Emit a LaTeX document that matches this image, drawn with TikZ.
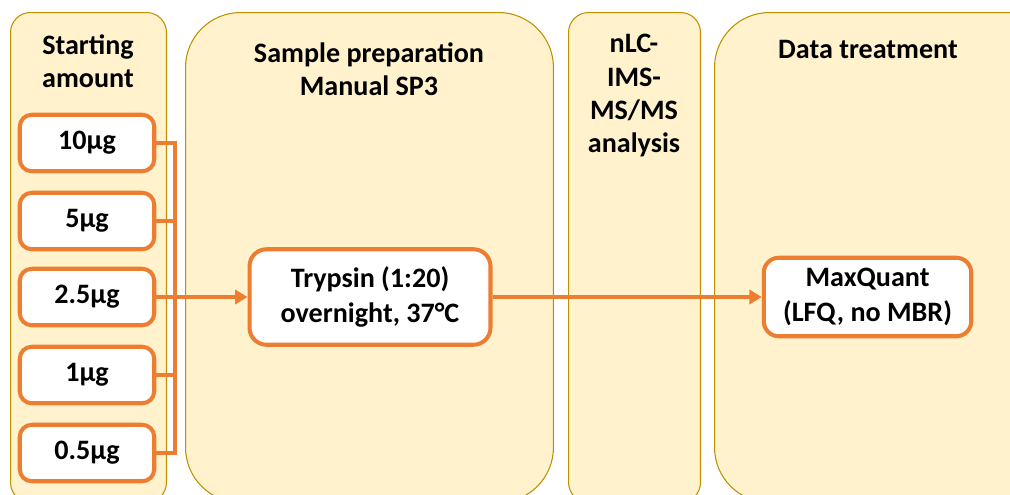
\documentclass[tikz,border=0pt]{standalone}
\usepackage{fontspec}
\setmainfont{Carlito}
\usetikzlibrary{arrows.meta,positioning}
\definecolor{LaneFill}{RGB}{255,242,204}
\definecolor{LaneLine}{RGB}{191,144,0}
\definecolor{BoxLine}{RGB}{237,125,49}
\tikzset{
  lane/.style={draw=LaneLine, fill=LaneFill, line width=0.6pt, inner sep=0pt, anchor=north west},
  lanetitle/.style={font=\bfseries\fontsize{16}{19}\selectfont, align=center, anchor=north, inner sep=0pt},
  stepbox/.style={draw=BoxLine, fill=white, line width=2.3pt, rounded corners=0.34cm, align=center, font=\bfseries\fontsize{16}{19.5}\selectfont},
  amountbox/.style={stepbox, rounded corners=0.24cm, minimum width=2.69cm, minimum height=1.13cm},
  flow/.style={draw=BoxLine, line width=2pt},
}
\begin{document}
\begin{tikzpicture}[x=0.02cm, y=-0.02cm, >={Triangle[length=7pt,width=8pt]}]
  \clip (0,0) rectangle (1010,494);
  \fill[white] (0,0) rectangle (1010,494);
  % lanes
  \node[lane, rounded corners=0.4cm, minimum width=3.12cm, minimum height=9.8cm] (lane1) at (10,12) {};
  \node[lane, rounded corners=1.1cm, minimum width=7.36cm, minimum height=9.8cm] (lane2) at (185,12) {};
  \node[lane, rounded corners=0.4cm, minimum width=2.64cm, minimum height=9.8cm] (lane3) at (568,12) {};
  \node[lane, rounded corners=1.1cm, minimum width=7.2cm, minimum height=9.8cm] (lane4) at (714,12) {};
  \node[lanetitle] (title1) at (88,34) {Starting\\amount};
  \node[lanetitle] (title2) at (369,42) {Sample preparation\\Manual SP3};
  \node[lanetitle] (title3) at (634,34) {nLC-\\IMS-\\MS/MS\\analysis};
  \node[lanetitle] (title4) at (868,40) {Data treatment};
  % starting amounts
  \foreach \amt/\ypos [count=\i] in {10µg/143, 5µg/221, 2.5µg/297, 1µg/375, 0.5µg/453}
    \node[amountbox] (amt\i) at (87,\ypos) {\amt};
  % steps
  \node[stepbox, minimum width=4.82cm, minimum height=1.91cm] (trypsin) at (370,297) {Trypsin (1:20)\\overnight, 37°C};
  \node[stepbox, rounded corners=0.3cm, minimum width=4.15cm, minimum height=1.57cm] (maxquant) at (867.5,297) {MaxQuant\\(LFQ, no MBR)};
  % connectors
  \coordinate (bus) at (175,0);
  \draw[flow] (amt1.east) -- (amt1.east -| bus) -- (amt5.east -| bus) -- (amt5.east);
  \draw[flow] (amt2.east) -- (amt2.east -| bus);
  \draw[flow] (amt4.east) -- (amt4.east -| bus);
  \draw[flow, ->] (amt3.east) -- (trypsin.west);
  \draw[flow, ->] (trypsin.east) -- (maxquant.west);
\end{tikzpicture}
\end{document}
